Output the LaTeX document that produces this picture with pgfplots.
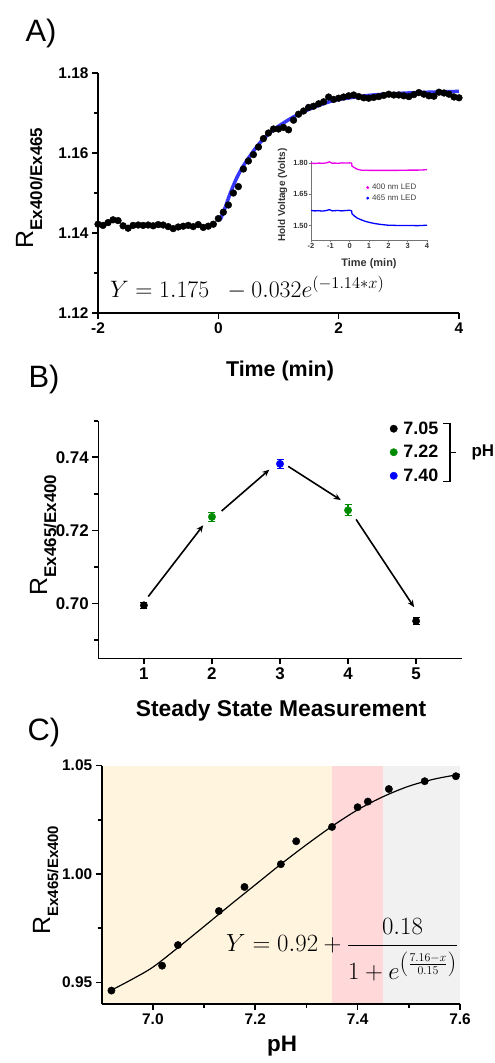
\documentclass[border=0pt]{standalone}
\usepackage[no-math]{fontspec}
\setmainfont{Liberation Sans}
\usepackage{pgfplots}
\pgfplotsset{compat=1.18}
\usetikzlibrary{arrows.meta}
\definecolor{bfit}{RGB}{55,55,250}
\definecolor{gr}{RGB}{0,140,0}
\definecolor{bl}{RGB}{0,0,255}
\definecolor{mg}{RGB}{235,0,235}
\definecolor{ybg}{RGB}{255,245,222}
\definecolor{pbg}{RGB}{255,216,218}
\definecolor{gbg}{RGB}{241,241,241}
\newcommand{\fs}[1]{\fontsize{#1}{#1}\selectfont}
\pgfplotsset{
  prism/.style={
    scale only axis,
    axis x line*=bottom, axis y line*=left,
    axis line style={line width=1.6bp, black},
    tick align=outside,
    major tick length=6bp, minor tick length=4bp,
    tick style={line width=1.6bp, black},
    minor tick style={line width=1.6bp, black},
    /pgf/number format/assume math mode=true,
    ticklabel style={font=\fs{15.5}\bfseries},
  }
}
\begin{document}
\begin{tikzpicture}
\path[use as bounding box] (0bp,0bp) rectangle (495bp,-1063bp);

% ---------------- Panel A ----------------
\begin{axis}[prism, at={(98bp,-313bp)}, anchor=south west, width=361bp, height=240bp,
  xmin=-2, xmax=4, ymin=1.12, ymax=1.18,
  xtick={-2,0,2,4}, ytick={1.12,1.14,1.16,1.18}, minor ytick={1.13,1.15,1.17},
  yticklabel style={/pgf/number format/fixed, /pgf/number format/fixed zerofill, /pgf/number format/precision=2},
  clip=false]
\addplot[bfit, line width=3.5bp, smooth] coordinates {
(0.03,1.1433) (0.1,1.1458) (0.2,1.1500) (0.3,1.1536) (0.4,1.1564) (0.5,1.1587) (0.6,1.1608)
(0.7,1.1627) (0.8,1.1643) (0.9,1.1656) (1.0,1.1667) (1.2,1.1686) (1.4,1.1702) (1.6,1.1715)
(1.8,1.1726) (2.0,1.1734) (2.5,1.1744) (3.0,1.1749) (3.5,1.1752) (4.0,1.1754)};
\addplot[only marks, mark=*, mark size=3.4bp, black] coordinates {
(-2.000,1.1422) (-1.917,1.1419) (-1.833,1.1426) (-1.750,1.1433) (-1.667,1.1431) (-1.583,1.1418)
(-1.500,1.1412) (-1.417,1.1419) (-1.333,1.1420) (-1.250,1.1419) (-1.167,1.1420) (-1.083,1.1418)
(-1.000,1.1421) (-0.917,1.1420) (-0.833,1.1416) (-0.750,1.1411) (-0.667,1.1415) (-0.583,1.1417)
(-0.500,1.1419) (-0.417,1.1416) (-0.333,1.1421) (-0.250,1.1414) (-0.167,1.1417) (-0.083,1.1422)
(0.000,1.1436) (0.083,1.1452) (0.167,1.1470) (0.250,1.1500) (0.333,1.1516) (0.417,1.1560)
(0.500,1.1580) (0.583,1.1596) (0.667,1.1615) (0.750,1.1636) (0.833,1.1650) (0.917,1.1660)
(1.000,1.1660) (1.083,1.1664) (1.167,1.1658) (1.250,1.1682) (1.333,1.1697) (1.417,1.1705)
(1.500,1.1714) (1.583,1.1717) (1.667,1.1723) (1.750,1.1728) (1.833,1.1740) (1.917,1.1734)
(2.000,1.1737) (2.083,1.1740) (2.167,1.1743) (2.250,1.1745) (2.333,1.1741) (2.417,1.1738)
(2.500,1.1737) (2.583,1.1739) (2.667,1.1741) (2.750,1.1744) (2.833,1.1747) (2.917,1.1745)
(3.000,1.1745) (3.083,1.1743) (3.167,1.1741) (3.250,1.1746) (3.333,1.1751) (3.417,1.1747)
(3.500,1.1743) (3.583,1.1742) (3.667,1.1752) (3.750,1.1750) (3.833,1.1747) (3.917,1.1740)
(4.000,1.1738)};
\end{axis}

% inset
\begin{axis}[scale only axis, at={(311bp,-240bp)}, anchor=south west, width=116bp, height=79bp,
  xmin=-2, xmax=4, ymin=1.43, ymax=1.81,
  axis x line*=bottom, axis y line*=left,
  axis line style={line width=0.8bp, black!55},
  tick align=outside, major tick length=2bp, tick style={line width=0.6bp, black!55},
  xtick={-2,-1,0,1,2,3,4}, ytick={1.50,1.65,1.80},
  /pgf/number format/assume math mode=true,
  ticklabel style={font=\fs{7.5}\bfseries, text=black!80, inner sep=1bp},
  yticklabel style={/pgf/number format/fixed, /pgf/number format/fixed zerofill, /pgf/number format/precision=2},
  legend image code/.code={\draw[#1] plot coordinates {(0bp,0bp)};},
  legend style={draw=none, fill=none, at={(0.476,0.597)}, anchor=west, inner sep=0pt,
    font=\fs{8}, text=black!75, row sep=1.5bp, column sep=2bp, nodes={inner sep=1bp}},
  clip=false]
\addplot[mg, line width=1.3bp, forget plot] coordinates {
(-2,1.800) (-1.8,1.798) (-1.6,1.800) (-1.4,1.799) (-1.2,1.801) (-1.05,1.806) (-0.9,1.799)
(-0.8,1.800) (-0.6,1.799) (-0.4,1.801) (-0.2,1.800) (0,1.801) (0.1,1.800) (0.12,1.785)
(0.25,1.778) (0.4,1.770) (0.6,1.766) (1,1.765) (1.5,1.765) (2,1.765) (2.5,1.765) (3,1.766)
(3.5,1.766) (4,1.768)};
\addplot[bl, line width=1.3bp, forget plot] coordinates {
(-2,1.572) (-1.8,1.570) (-1.6,1.571) (-1.4,1.569) (-1.2,1.572) (-1.05,1.576) (-0.9,1.570)
(-0.8,1.571) (-0.6,1.572) (-0.4,1.570) (-0.2,1.572) (0,1.573) (0.1,1.570) (0.12,1.556)
(0.25,1.545) (0.4,1.535) (0.6,1.527) (0.8,1.520) (1.0,1.515) (1.3,1.509) (1.6,1.505)
(2.0,1.501) (2.5,1.500) (3,1.500) (3.5,1.499) (4,1.501)};
\addlegendimage{mark=*, mark size=1.3bp, mg}
\addlegendentry{400 nm LED}
\addlegendimage{mark=*, mark size=1.3bp, bl}
\addlegendentry{465 nm LED}
\end{axis}

\node[anchor=base west, font=\fs{31}] at (22bp,-41.7bp) {A)};
\node[rotate=90, anchor=base] at (33bp,-188bp) {{\fs{25}R}{\fs{17}\bfseries\raisebox{-9bp}{Ex400/Ex465}}};
\node[anchor=base, font=\fs{21.5}\bfseries] at (280bp,-376bp) {Time (min)};
\node[rotate=90, anchor=base, font=\fs{10}\bfseries, text=black!80] at (285bp,-195bp) {Hold Voltage (Volts)};
\node[anchor=base, font=\fs{11}\bfseries, text=black!80] at (369bp,-266.7bp) {Time (min)};
\node[anchor=base west, inner sep=0pt] at (110bp,-297bp) {\scalebox{1.15}{\fs{22}$Y = 1.175\;\; - 0.032e^{(-1.14\ast x)}$}};

% ---------------- Panel B ----------------
\begin{axis}[prism, at={(98.3bp,-658.3bp)}, anchor=south west, width=363.4bp, height=237.6bp,
  xmin=0.33, xmax=5.67, ymin=0.685, ymax=0.75,
  xtick={1,2,3,4,5}, ytick={0.70,0.72,0.74}, minor ytick={0.69,0.71,0.73,0.75},
  ticklabel style={font=\fs{17}\bfseries},
  yticklabel style={/pgf/number format/fixed, /pgf/number format/fixed zerofill, /pgf/number format/precision=2},
  legend image code/.code={\draw[#1] plot coordinates {(0bp,0bp)};},
  legend style={draw=none, fill=none, at={(0.8022,1.005)}, anchor=north west, inner sep=0pt,
    font=\fs{18}\bfseries, row sep=5.5bp, column sep=4bp, nodes={inner sep=2bp}},
  clip=false]
\addplot[-{Stealth[length=7bp,width=6bp]}, line width=1.6bp, forget plot] coordinates {(1.064,0.7019) (1.872,0.7214)};
\addplot[-{Stealth[length=7bp,width=6bp]}, line width=1.6bp, forget plot] coordinates {(2.142,0.7253) (2.843,0.7366)};
\addplot[-{Stealth[length=7bp,width=6bp]}, line width=1.6bp, forget plot] coordinates {(3.122,0.7375) (3.893,0.7283)};
\addplot[-{Stealth[length=7bp,width=6bp]}, line width=1.6bp, forget plot] coordinates {(4.118,0.7230) (4.970,0.6990)};
\addplot[only marks, mark=*, mark size=3.7bp, black, forget plot,
  error bars/.cd, y dir=both, y explicit, error bar style={line width=1.2bp},
  error mark options={rotate=90, mark size=3.5bp, line width=1.2bp}]
  coordinates {(1,0.6995) +- (0,0.0008) (5,0.6952) +- (0,0.0009)};
\addplot[only marks, mark=*, mark size=3.7bp, gr, forget plot,
  error bars/.cd, y dir=both, y explicit, error bar style={line width=1.2bp},
  error mark options={rotate=90, mark size=3.5bp, line width=1.2bp}]
  coordinates {(2,0.7237) +- (0,0.0012) (4,0.7255) +- (0,0.0015)};
\addplot[only marks, mark=*, mark size=3.7bp, bl, forget plot,
  error bars/.cd, y dir=both, y explicit, error bar style={line width=1.2bp},
  error mark options={rotate=90, mark size=3.5bp, line width=1.2bp}]
  coordinates {(3,0.7382) +- (0,0.0012)};
\addlegendimage{mark=*, mark size=3.7bp, black}
\addlegendentry{7.05}
\addlegendimage{mark=*, mark size=3.7bp, gr}
\addlegendentry{7.22}
\addlegendimage{mark=*, mark size=3.7bp, bl}
\addlegendentry{7.40}
\end{axis}

\draw[line width=1.3bp] (443.3bp,-423.3bp) -- (450bp,-423.3bp) -- (450bp,-481.7bp) -- (443.3bp,-481.7bp);
\draw[line width=1.3bp] (450bp,-452.5bp) -- (456bp,-452.5bp);
\node[anchor=west, font=\fs{17}\bfseries] at (468bp,-452bp) {pH};

\node[anchor=base west, font=\fs{31}] at (25bp,-387.3bp) {B)};
\node[rotate=90, anchor=base] at (47bp,-535bp) {{\fs{25}R}{\fs{17}\bfseries\raisebox{-9bp}{Ex465/Ex400}}};
\node[anchor=base, font=\fs{22.9}\bfseries] at (281bp,-716bp) {Steady State Measurement};

% ---------------- Panel C ----------------
\begin{axis}[prism, at={(101.7bp,-1004bp)}, anchor=south west, width=358.3bp, height=238.4bp,
  xmin=6.9, xmax=7.6, ymin=0.94, ymax=1.05,
  xtick={7.0,7.2,7.4,7.6}, minor xtick={7.1,7.3,7.5}, ytick={0.95,1.00,1.05}, minor ytick={0.975,1.025},
  xticklabel style={/pgf/number format/fixed, /pgf/number format/fixed zerofill, /pgf/number format/precision=1},
  yticklabel style={/pgf/number format/fixed, /pgf/number format/fixed zerofill, /pgf/number format/precision=2},
  axis on top]
\addplot[draw=none, fill=ybg, forget plot] coordinates {(6.9,1.05) (7.35,1.05)} \closedcycle;
\addplot[draw=none, fill=pbg, forget plot] coordinates {(7.35,1.05) (7.45,1.05)} \closedcycle;
\addplot[draw=none, fill=gbg, forget plot] coordinates {(7.45,1.05) (7.6,1.05)} \closedcycle;
\addplot[black, line width=1.2bp, smooth] coordinates {
(6.92,0.9465) (6.96,0.9515) (7.0,0.9570) (7.05,0.9662) (7.1,0.9758) (7.15,0.9855) (7.2,0.9950)
(7.25,1.0045) (7.3,1.0135) (7.35,1.0220) (7.4,1.0296) (7.45,1.0357) (7.5,1.0405) (7.55,1.0438) (7.6,1.0460)};
\addplot[only marks, mark=*, mark size=3.7bp, black] coordinates {
(6.919,0.9462) (7.018,0.9577) (7.049,0.9672) (7.129,0.9829) (7.179,0.9940) (7.250,1.0045)
(7.280,1.0151) (7.350,1.0217) (7.400,1.0308) (7.420,1.0334) (7.461,1.0392) (7.531,1.0428) (7.592,1.0451)};
\end{axis}

\node[anchor=base west, font=\fs{31}] at (24bp,-740bp) {C)};
\node[rotate=90, anchor=base] at (50bp,-880bp) {{\fs{25}R}{\fs{15}\bfseries\raisebox{-8bp}{Ex465/Ex400}}};
\node[anchor=base, font=\fs{22.5}\bfseries] at (282bp,-1051bp) {pH};
\node[anchor=base west, inner sep=0pt] at (226bp,-951.7bp) {\fs{25}$\displaystyle Y = 0.92 + \frac{0.18}{\rule{0pt}{1.3em}1+e^{\left(\frac{7.16-x}{0.15}\right)}}$};
\end{tikzpicture}
\end{document}
